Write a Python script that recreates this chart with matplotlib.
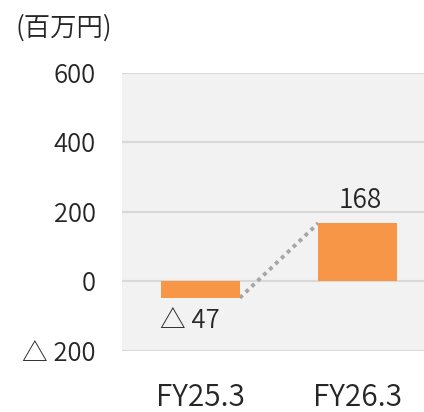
import matplotlib.pyplot as plt
from matplotlib.ticker import FixedLocator

plt.rcParams['font.family'] = ['Noto Sans CJK JP', 'DejaVu Sans']
plt.rcParams['font.weight'] = 350

# data
categories = ['FY25.3', 'FY26.3']
values = [-47, 168]
value_labels = ['△ 47', '168']
yticks = [-200, 0, 200, 400, 600]
ytick_labels = ['△ 200', '0', '200', '400', '600']
unit = '(百万円)'

bar_color = '#F79646'
text_color = '#262626'
bar_w = 0.5

fig = plt.figure(figsize=(4.24, 4.12), dpi=100)
ax = fig.add_axes([0.2877, 0.148, 0.741, 0.675])
ax.set_facecolor('#F2F2F2')

x = list(range(len(categories)))
ax.bar(x, values, width=bar_w, color=bar_color, zorder=3)

# connector between bars
ax.plot([x[0] + bar_w / 2, x[1] - bar_w / 2], [values[0], values[1]],
        color='#A6A6A6', lw=2.8, linestyle=(0, (1, 1.1)),
        dash_capstyle='butt', zorder=2)

# value labels
ax.annotate(value_labels[0], (x[0] - bar_w / 2, values[0]), xytext=(-1, -7),
            textcoords='offset points', ha='left', va='top',
            fontsize=18.5, color=text_color)
ax.annotate(value_labels[1], (x[1], values[1]), xytext=(2, 11),
            textcoords='offset points', ha='center', va='baseline',
            fontsize=19, color=text_color)

ax.set_xlim(-0.5, 1.5)
ax.set_ylim(-200, 600)
ax.yaxis.set_major_locator(FixedLocator(yticks))
ax.set_yticklabels(ytick_labels, fontsize=18.5, color=text_color)
ax.set_xticks(x)
ax.set_xticklabels(categories, fontsize=21.5, color=text_color)
ax.tick_params(axis='y', length=0, pad=19)
ax.tick_params(axis='x', length=0, pad=22)
ax.grid(axis='y', color='#D9D9D9', lw=1.5, zorder=1)
for s in ax.spines.values():
    s.set_visible(False)

fig.text(15 / 424, 1 - 28 / 412, unit, ha='left', va='center',
         fontsize=19, color=text_color)

fig.savefig('out.png', dpi=100)
